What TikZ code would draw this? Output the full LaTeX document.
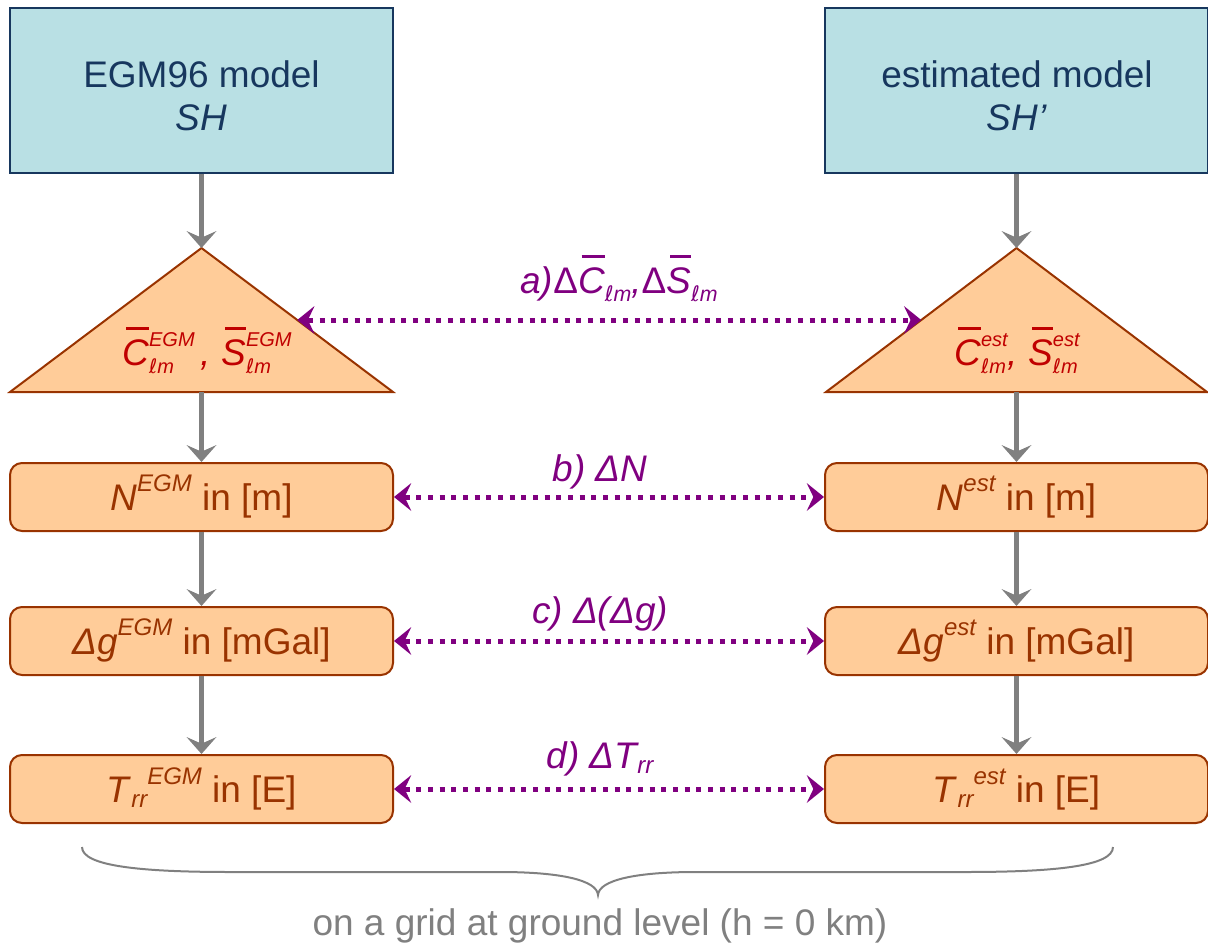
\documentclass[tikz,border=0pt]{standalone}
\usepackage{fontspec}
\setmainfont{Liberation Sans}
\newfontfamily\dv{DejaVu Sans}
\usetikzlibrary{arrows.meta,calc}
\definecolor{navy}{HTML}{17375E}
\definecolor{aqua}{HTML}{B9E0E4}
\definecolor{peach}{HTML}{FFCC99}
\definecolor{brn}{HTML}{993300}
\definecolor{crim}{HTML}{C00000}
\definecolor{purp}{HTML}{800080}
\definecolor{gry}{HTML}{808080}
\newcommand{\bigfont}{\fontsize{27.75}{31.5}\selectfont}
\newcommand{\ob}[1]{\setbox0\hbox{#1}\rlap{\hspace{0.1em}\rule[0.95em]{\dimexpr\wd0-0.1em\relax}{0.075em}}\box0}
\newcommand{\SbSp}[5]{\begingroup\fontsize{#1}{#1}\selectfont
 \setbox2=\hbox{\raisebox{-#2}{#3}}%
 \setbox4=\hbox{\raisebox{#4}{#5}}%
 \ifdim\wd2>\wd4\relax\rlap{\box4}\box2\else\rlap{\box2}\box4\fi
 \endgroup}
\newcommand{\Sb}[3]{\raisebox{-#2}{\fontsize{#1}{#1}\selectfont #3}}
\newcommand{\Sp}[3]{\raisebox{#2}{\fontsize{#1}{#1}\selectfont #3}}
\tikzset{
 topbox/.style={draw=navy, fill=aqua, line width=1.5pt, minimum width=287.25pt, minimum height=123.75pt, inner sep=0pt},
 toptxt/.style={text=navy, font=\bigfont, inner sep=0pt, anchor=base},
 rbox/.style={draw=brn, fill=peach, line width=1.5pt, rounded corners=9pt, minimum width=287.25pt, minimum height=51pt, text=brn, font=\bigfont, text height=19.9pt, text depth=0pt, inner sep=0pt},
 tri/.style={draw=brn, fill=peach, line width=1.5pt, line join=miter},
 trilbl/.style={text=crim, font=\bigfont\itshape, inner sep=0pt, anchor=base},
 garrow/.style={draw=gry, line width=3.75pt, -{Stealth[length=12.75pt,width=22.5pt,inset=5pt,line width=0pt]}},
 darrow/.style={draw=purp, line width=3.75pt, dash pattern=on 3.75pt off 5pt, {Stealth[length=13pt,width=21pt,inset=5pt,line width=0pt]}-{Stealth[length=13pt,width=21pt,inset=5pt,line width=0pt]}},
 lbl/.style={text=purp, font=\bigfont\itshape, inner sep=0pt, anchor=base},
}
\begin{document}
\begin{tikzpicture}[x=0.75pt,y=-0.75pt]
\useasboundingbox (0,0) rectangle (1208,946);
% top boxes
\node[topbox] (egm) at (201.5,90.5) {};
\node[topbox] (est) at (1016.5,90.5) {};
\node[toptxt] (egm1) at (201.5,87) {EGM96 model};
\node[toptxt] (egm2) at (201.5,130) {\textit{SH}};
\node[toptxt] (est1) at (1017,87) {estimated model};
\node[toptxt] (est2) at (1017,130) {\textit{SH’}};
% triangles
\coordinate (tlA) at (201.5,248); \coordinate (tlL) at (10,392); \coordinate (tlR) at (393,392);
\coordinate (tlB) at (201.5,392);
\coordinate (trA) at (1016.5,248); \coordinate (trL) at (826,392); \coordinate (trR) at (1207,392);
\coordinate (trB) at (1016.5,392);
\draw[tri] (tlA) -- (tlR) -- (tlL) -- cycle;
\draw[tri] (trA) -- (trR) -- (trL) -- cycle;
\coordinate (tlE) at ($(tlA)!0.5!(tlR)$);
\coordinate (trE) at ($(trA)!0.5!(trL)$);
\node[trilbl] (ctl) at (207,365) {\ob{C}\SbSp{15}{6pt}{{\dv ℓ}m}{14pt}{EGM}\,, \ob{S}\SbSp{15}{6pt}{{\dv ℓ}m}{14pt}{EGM}};
\node[trilbl] (ctr) at (1017,365) {\ob{C}\SbSp{15}{6pt}{{\dv ℓ}m}{14pt}{est}, \ob{S}\SbSp{15}{6pt}{{\dv ℓ}m}{14pt}{est}};
% rounded boxes
\node[rbox] (n1) at (201.5,497) {\textit{N}\Sp{18}{14pt}{\itshape EGM} in [m]};
\node[rbox] (g1) at (201.5,641) {\textit{Δg}\Sp{18}{14pt}{\itshape EGM} in [mGal]};
\node[rbox] (t1) at (201.5,789) {\textit{T}\Sb{18}{4pt}{\itshape rr}\Sp{18}{13.5pt}{\itshape EGM} in [E]};
\node[rbox] (n2) at (1016.5,497) {\textit{N}\Sp{18}{14pt}{\itshape est} in [m]};
\node[rbox] (g2) at (1016.5,641) {\textit{Δg}\Sp{18}{14pt}{\itshape est} in [mGal]};
\node[rbox] (t2) at (1016.5,789) {\textit{T}\Sb{18}{4pt}{\itshape rr}\Sp{18}{13.5pt}{\itshape est} in [E]};
% gray arrows
\draw[garrow] (egm.south) -- (tlA);
\draw[garrow] (tlB) -- (n1.north);
\draw[garrow] (n1.south) -- (g1.north);
\draw[garrow] (g1.south) -- (t1.north);
\draw[garrow] (est.south) -- (trA);
\draw[garrow] (trB) -- (n2.north);
\draw[garrow] (n2.south) -- (g2.north);
\draw[garrow] (g2.south) -- (t2.north);
% dotted comparisons
\draw[darrow] (tlE) -- (trE);
\draw[darrow] (n1.east) -- (n2.west);
\draw[darrow] (g1.east) -- (g2.west);
\draw[darrow] (t1.east) -- (t2.west);
\node[lbl] (la) at (619,293) {a)\upshape Δ\itshape\ob{C}\Sb{16}{6pt}{{\dv ℓ}m},\upshape Δ\itshape\ob{S}\Sb{16}{6pt}{{\dv ℓ}m}};
\node[lbl] (lb) at (600,481) {b) ΔN};
\node[lbl] (lc) at (600,623) {c) Δ(Δg)};
\node[lbl] (ld) at (600,768) {d) ΔT\Sb{18}{4pt}{rr}};
% brace
\draw[gry, line width=1.5pt] (82,847) .. controls (82,866) and (140,872) .. (230,872) -- (500,872) .. controls (560,872) and (597,880) .. (598,895) .. controls (599,880) and (636,872) .. (696,872) -- (966,872) .. controls (1056,872) and (1113,866) .. (1113,847);
\node[anchor=base, text=gry, font=\bigfont, inner sep=0pt] (cap) at (600,935) {on a grid at ground level (h = 0 km)};
\end{tikzpicture}
\end{document}
